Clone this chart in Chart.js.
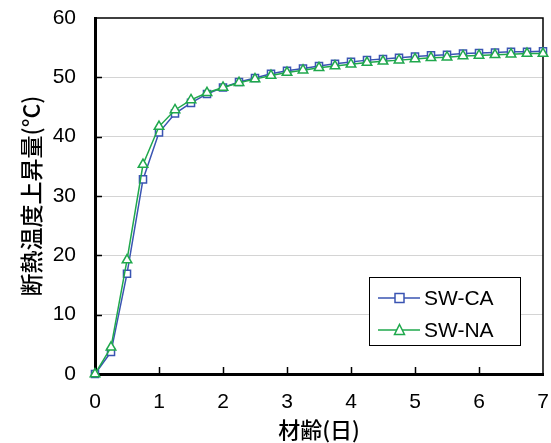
<!DOCTYPE html>
<html>
<head>
<meta charset="utf-8">
<script src="https://cdn.jsdelivr.net/npm/chart.js@4"></script>
<style>
  html, body { margin: 0; padding: 0; background: #fff; }
  #wrap { width: 551px; height: 443px; }
</style>
</head>
<body>
<div id="wrap"><canvas id="heat-graph"></canvas></div>
<script>
// 材齢 (days), every 0.25 day
const ages = [0, 0.25, 0.5, 0.75, 1, 1.25, 1.5, 1.75, 2, 2.25, 2.5, 2.75, 3, 3.25, 3.5, 3.75,
              4, 4.25, 4.5, 4.75, 5, 5.25, 5.5, 5.75, 6, 6.25, 6.5, 6.75, 7];
const riseCA = [0, 3.7, 16.9, 32.8, 40.7, 43.9, 45.7, 47.2, 48.3, 49.2, 49.9, 50.6, 51.1, 51.5, 51.9, 52.3,
                52.6, 52.9, 53.1, 53.3, 53.5, 53.7, 53.8, 54.0, 54.1, 54.2, 54.3, 54.3, 54.4];
const riseNA = [0, 4.5, 19.2, 35.3, 41.7, 44.5, 46.2, 47.4, 48.3, 49.1, 49.7, 50.3, 50.8, 51.2, 51.6, 51.9,
                52.2, 52.5, 52.7, 52.9, 53.1, 53.3, 53.4, 53.6, 53.7, 53.8, 53.9, 54.0, 54.0];
const seriesNames = ['SW-CA', 'SW-NA'];
const xTicks = [0, 1, 2, 3, 4, 5, 6, 7];
const yTicks = [0, 10, 20, 30, 40, 50, 60];

const blue = '#3a54b2';
const green = '#1fa84c';
const numFont = { family: '"Liberation Sans", Arial, sans-serif', size: 21 };
const jpFont = { family: '"Noto Sans CJK JP", sans-serif', size: 22, weight: '500' };

// frame, inward tick marks and the boxed legend
const framePlugin = {
    id: 'frame',
    beforeDatasetsDraw(chart) {
        const { ctx, chartArea: a, scales } = chart;
        ctx.save();
        ctx.strokeStyle = '#000';
        ctx.lineWidth = 1.5;
        ctx.beginPath();
        ctx.moveTo(a.left, a.top);
        ctx.lineTo(a.right, a.top);
        ctx.lineTo(a.right, a.bottom);
        ctx.stroke();

        ctx.beginPath();
        yTicks.slice(1, -1).forEach(v => {
            const y = Math.round(scales.y.getPixelForValue(v)) + 0.5;
            ctx.moveTo(a.left, y);
            ctx.lineTo(a.left + 7, y);
        });
        xTicks.slice(1, -1).forEach(v => {
            const x = Math.round(scales.x.getPixelForValue(v)) + 0.5;
            ctx.moveTo(x, a.bottom);
            ctx.lineTo(x, a.bottom - 7);
        });
        ctx.stroke();
        ctx.restore();
    },
    afterDraw(chart) {
        const ctx = chart.ctx;
        ctx.save();
        // legend box
        const bx = 369, by = 277, bw = 151, bh = 68;
        ctx.fillStyle = '#fff';
        ctx.fillRect(bx, by, bw, bh);
        ctx.strokeStyle = '#000';
        ctx.lineWidth = 1;
        ctx.strokeRect(bx + 0.5, by + 0.5, bw, bh);
        const rows = [chart.data.datasets[1], chart.data.datasets[0]];
        rows.forEach((ds, i) => {
            const cy = by + 21 + i * 32;
            ctx.strokeStyle = ds.borderColor;
            ctx.lineWidth = 1.5;
            ctx.beginPath();
            ctx.moveTo(bx + 9, cy);
            ctx.lineTo(bx + 51, cy);
            ctx.stroke();
            ctx.fillStyle = '#fff';
            ctx.beginPath();
            if (ds.pointStyle === 'rect') {
                ctx.rect(bx + 26, cy - 4.5, 9, 9);
            } else {
                ctx.moveTo(bx + 30.5, cy - 5.5);
                ctx.lineTo(bx + 35.5, cy + 4.5);
                ctx.lineTo(bx + 25.5, cy + 4.5);
                ctx.closePath();
            }
            ctx.fill();
            ctx.stroke();
            ctx.fillStyle = '#000';
            ctx.font = `${numFont.size}px ${numFont.family}`;
            ctx.textBaseline = 'middle';
            ctx.fillText(ds.label, bx + 55, cy + 1);
        });
        ctx.restore();
    }
};

const ctx = document.getElementById('heat-graph').getContext('2d');
const heatChart = new Chart(ctx, {
    type: 'line',
    data: {
        datasets: [{
            label: seriesNames[1],
            data: ages.map((d, i) => ({ x: d, y: riseNA[i] })),
            borderColor: green,
            backgroundColor: '#fff',
            borderWidth: 1.5,
            pointStyle: 'triangle',
            pointRadius: 5.5,
            pointBorderWidth: 1.5,
            clip: false,
            order: 0
        }, {
            label: seriesNames[0],
            data: ages.map((d, i) => ({ x: d, y: riseCA[i] })),
            borderColor: blue,
            backgroundColor: '#fff',
            borderWidth: 1.5,
            pointStyle: 'rect',
            pointRadius: 5,
            pointBorderWidth: 1.5,
            clip: false,
            order: 1
        }]
    },
    options: {
        responsive: true,
        maintainAspectRatio: false,
        animation: false,
        layout: { padding: { top: 18, right: 8, left: 0, bottom: 0 } },
        scales: {
            x: {
                type: 'linear',
                min: 0,
                max: 7,
                afterBuildTicks: s => { s.ticks = xTicks.map(v => ({ value: v })); },
                afterFit: s => { s.height = 69; s.paddingLeft = 0; s.paddingRight = 0; },
                grid: { display: false, drawTicks: false },
                border: { color: '#000', width: 3 },
                ticks: { color: '#000', font: numFont, padding: 16, maxRotation: 0 },
                title: {
                    display: true,
                    text: '材齢(日)',
                    color: '#000',
                    font: jpFont,
                    padding: { top: 0, bottom: 0 }
                }
            },
            y: {
                min: 0,
                max: 60,
                afterBuildTicks: s => { s.ticks = yTicks.map(v => ({ value: v })); },
                afterFit: s => { s.width = 95; s.paddingTop = 0; s.paddingBottom = 0; },
                grid: {
                    drawTicks: false,
                    lineWidth: 1,
                    color: c => (c.tick && (c.tick.value === 0 || c.tick.value === 60)) ? 'rgba(0,0,0,0)' : '#d4d4d4'
                },
                border: { color: '#000', width: 3 },
                ticks: { color: '#000', font: numFont, padding: 19 },
                title: {
                    display: true,
                    text: '断熱温度上昇量(°C)',
                    color: '#000',
                    font: { ...jpFont, size: 23 },
                    padding: { top: 17, bottom: 0 }
                }
            }
        },
        plugins: {
            legend: { display: false },
            tooltip: { enabled: false }
        }
    },
    plugins: [framePlugin]
});
</script>
</body>
</html>
